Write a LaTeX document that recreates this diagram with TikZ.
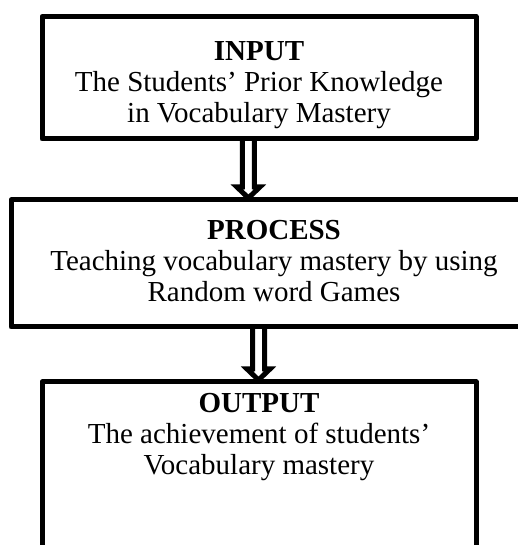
\documentclass[tikz,border=0pt]{standalone}
\usepackage{fontspec}
\setmainfont{Liberation Serif}
\usetikzlibrary{calc}
\tikzset{
  box/.style={draw, rectangle, line width=5pt, line join=round, inner sep=0pt, outer sep=0pt},
  boxtext/.style={align=center, inner sep=0pt, font=\fontsize{29}{30.8}\selectfont},
  blockarrow/.style={draw, line width=5pt, line join=miter},
}
\begin{document}
\begin{tikzpicture}[x=1pt,y=1pt]
\useasboundingbox (0,0) rectangle (518,545);
\clip (0,0) rectangle (518,545);
% boxes
\node[box, minimum width=434pt, minimum height=122.5pt] (input) at (259,467.25) {};
\node[box, minimum width=529pt, minimum height=127pt] (process) at (275.5,281.5) {};
\node[box, minimum width=434pt, minimum height=218pt] (output) at (259,54) {};
% texts (anchor=base is the baseline of the last line)
\node[boxtext, anchor=base] (inputtext) at (259,422.9) {\textbf{INPUT}\\The Students’ Prior Knowledge\\in Vocabulary Mastery};
\node[boxtext, anchor=base] (processtext) at (274,243.9) {\textbf{PROCESS}\\Teaching vocabulary mastery by using\\Random word Games};
\node[boxtext, anchor=base] (outputtext) at (259,70.4) {\textbf{OUTPUT}\\The achievement of students’\\Vocabulary mastery};
% arrows
\coordinate (a1) at ([xshift=-10.6pt]input.south);
\coordinate (a1e) at (a1 |- process.north);
\draw[blockarrow] ($(a1)+(-6,0)$) -- ($(a1e)+(-6,13)$) -- ($(a1e)+(-11.5,13)$) -- ($(a1e)+(0,2)$) -- ($(a1e)+(11.5,13)$) -- ($(a1e)+(6,13)$) -- ($(a1)+(6,0)$);
\coordinate (a2) at ([xshift=-17pt]process.south);
\coordinate (a2e) at (a2 |- output.north);
\draw[blockarrow] ($(a2)+(-6,0)$) -- ($(a2e)+(-6,13)$) -- ($(a2e)+(-11.5,13)$) -- ($(a2e)+(0,2)$) -- ($(a2e)+(11.5,13)$) -- ($(a2e)+(6,13)$) -- ($(a2)+(6,0)$);
\end{tikzpicture}
\end{document}
